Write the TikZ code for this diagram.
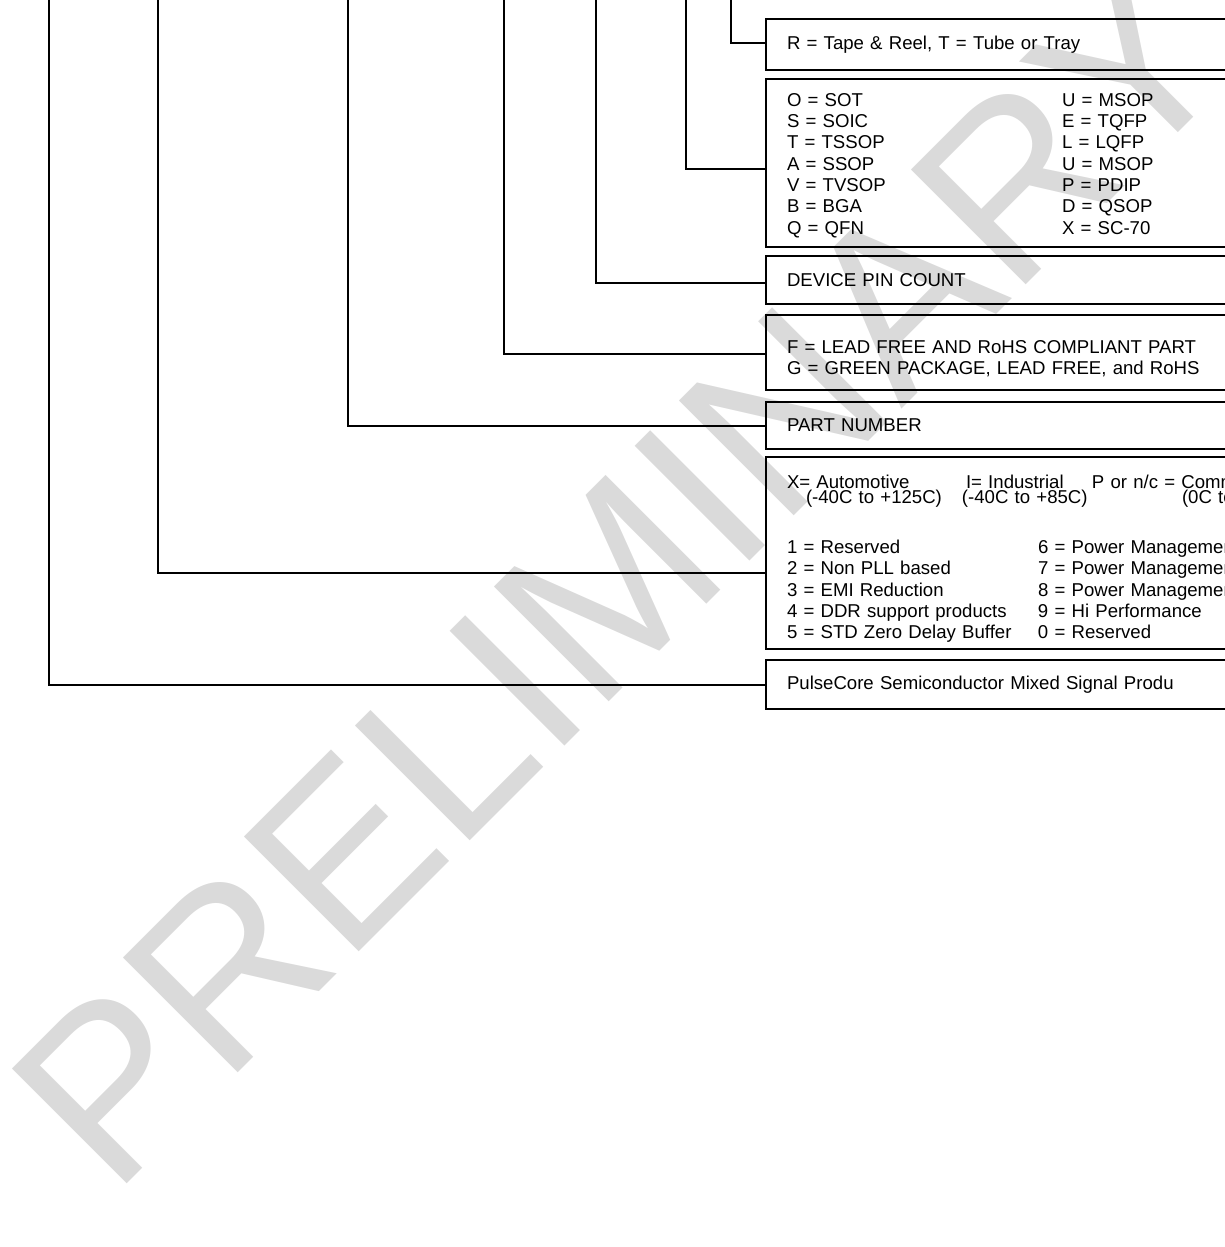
\documentclass[tikz,border=0pt]{standalone}
\usepackage{fontspec}
\setmainfont{Liberation Sans}
\usepackage{xcolor}
\usepackage{tikz}
\usetikzlibrary{positioning, calc}

\definecolor{wmgray}{RGB}{218,218,218}

\begin{document}
\begin{tikzpicture}[
        x=0.5pt, y=-0.5pt,
        partbox/.style={rectangle, draw=black, line width=1.2pt, outer sep=0pt, anchor=north west, text width=232pt, inner xsep=10.5pt, inner ysep=0pt, align=left, font=\fontsize{9.3}{10.65}\selectfont},
        conn/.style={draw=black, line width=1pt},
        watermark/.style={text=wmgray, font=\fontsize{118}{118}\selectfont, rotate=45}
    ]
    \useasboundingbox (0,0) rectangle (1225,1247);
    \clip (0,0) rectangle (1225,1247);

    % Watermark
    \node[watermark] (wm) at (620,576) {PRELIMINARY};

    % Option boxes
    \node[partbox, minimum height=25.5pt] (packing) at (766,19) {R = Tape \& Reel, T = Tube or Tray};
    \node[partbox, minimum height=84pt, below=4.5pt of packing] (pkgtype) {%
        \rule{0pt}{9pt}\makebox[137.5pt][l]{O = SOT}U = MSOP\\
        \makebox[137.5pt][l]{S = SOIC}E = TQFP\\
        \makebox[137.5pt][l]{T = TSSOP}L = LQFP\\
        \makebox[137.5pt][l]{A = SSOP}U = MSOP\\
        \makebox[137.5pt][l]{V = TVSOP}P = PDIP\\
        \makebox[137.5pt][l]{B = BGA}D = QSOP\\
        \makebox[137.5pt][l]{Q = QFN}X = SC-70};
    \node[partbox, minimum height=24pt, below=4.5pt of pkgtype] (pincount) {DEVICE PIN COUNT};
    \node[partbox, minimum height=37.5pt, below=5.5pt of pincount] (leadfree) {%
        \rule{0pt}{12.5pt}F = LEAD FREE AND RoHS COMPLIANT PART\\
        G = GREEN PACKAGE, LEAD FREE, and RoHS};
    \node[partbox, minimum height=23.5pt, below=6pt of leadfree] (partnum) {PART NUMBER};
    \node[partbox, minimum height=96pt, below=4pt of partnum] (family) {%
        \rule{0pt}{12.5pt}\makebox[89.5pt][l]{X= Automotive}\makebox[63pt][l]{I= Industrial}P or n/c = Comm\\[-3pt]
        \hspace*{9.5pt}\makebox[78pt][l]{(-40C to +125C)}\makebox[110pt][l]{(-40C to +85C)}(0C to\\[14.35pt]
        \makebox[125.5pt][l]{1 = Reserved}6 = Power Managemen\\
        \makebox[125.5pt][l]{2 = Non PLL based}7 = Power Managemen\\
        \makebox[125.5pt][l]{3 = EMI Reduction}8 = Power Managemen\\
        \makebox[125.5pt][l]{4 = DDR support products}9 = Hi Performance\\
        \makebox[125.5pt][l]{5 = STD Zero Delay Buffer}0 = Reserved};
    \node[partbox, minimum height=24.5pt, below=5.5pt of family] (maker) {PulseCore Semiconductor Mixed Signal Produ};

    % Tops of the leads
    \coordinate (top_maker) at (49,0);
    \coordinate (top_family) at (158,0);
    \coordinate (top_partnum) at (348,0);
    \coordinate (top_leadfree) at (504,0);
    \coordinate (top_pincount) at (596,0);
    \coordinate (top_pkgtype) at (686,0);
    \coordinate (top_packing) at (731,0);

    % Leads to the boxes
    \draw[conn] (top_packing) |- ($(packing.west)+(0,-1)$);
    \draw[conn] (top_pkgtype) |- ($(pkgtype.west)+(0,6)$);
    \draw[conn] (top_pincount) |- ($(pincount.west)+(0,3)$);
    \draw[conn] (top_leadfree) |- ($(leadfree.west)+(0,1)$);
    \draw[conn] (top_partnum) |- (partnum.west);
    \draw[conn] (top_family) |- ($(family.west)+(0,20)$);
    \draw[conn] (top_maker) |- (maker.west);

\end{tikzpicture}
\end{document}
